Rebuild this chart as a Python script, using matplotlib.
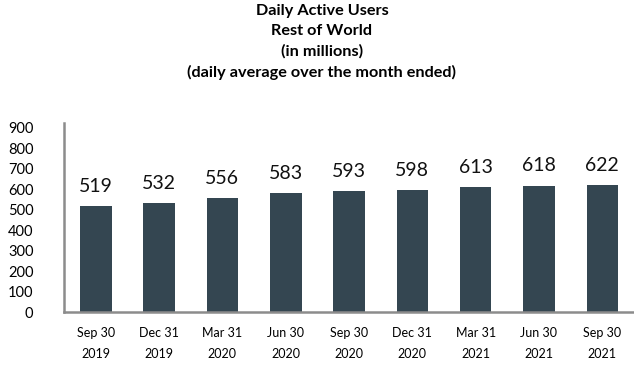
import numpy as np
import matplotlib.pyplot as plt

plt.rcParams['font.family'] = ['Lato', 'DejaVu Sans']

quarters = ["Sep 30\n2019", "Dec 31\n2019", "Mar 31\n2020", "Jun 30\n2020", "Sep 30\n2020",
            "Dec 31\n2020", "Mar 31\n2021", "Jun 30\n2021", "Sep 30\n2021"]
dau = [519, 532, 556, 583, 593, 598, 613, 618, 622]
yticks = [0, 100, 200, 300, 400, 500, 600, 700, 800, 900]

W, H = 634, 366
fig = plt.figure(figsize=(W / 100, H / 100), dpi=100)
ax = fig.add_axes([64 / W, 1 - 312 / H, (634 - 64) / W, (312 - 123) / H])

x = np.arange(len(dau))
bars = ax.bar(x, dau, width=0.5, color='#344651')
for xi, v in zip(x, dau):
    ax.annotate(str(v), (xi, v), xytext=(0, 8), textcoords='offset points',
                ha='center', va='bottom', fontsize=14, color='#111111')

ax.set_xlim(-0.5, len(dau) - 0.5)
ax.set_ylim(0, 924)
ax.set_yticks(yticks)
ax.set_xticks(x)
ax.set_xticklabels(quarters, fontsize=9, linespacing=1.9)
ax.tick_params(axis='y', length=0, pad=22, labelsize=10.5)
ax.tick_params(axis='x', length=0, pad=11)

for s in ['top', 'right']:
    ax.spines[s].set_visible(False)
for s in ['left', 'bottom']:
    ax.spines[s].set_color('#8c8c8c')
    ax.spines[s].set_linewidth(1.8)

fig.text(322 / W, 1 - 42 / H,
         "Daily Active Users\nRest of World\n(in millions)\n(daily average over the month ended)",
         ha='center', va='center', fontsize=11.7, fontweight='bold', linespacing=1.55)

fig.savefig('out.png', dpi=100)
